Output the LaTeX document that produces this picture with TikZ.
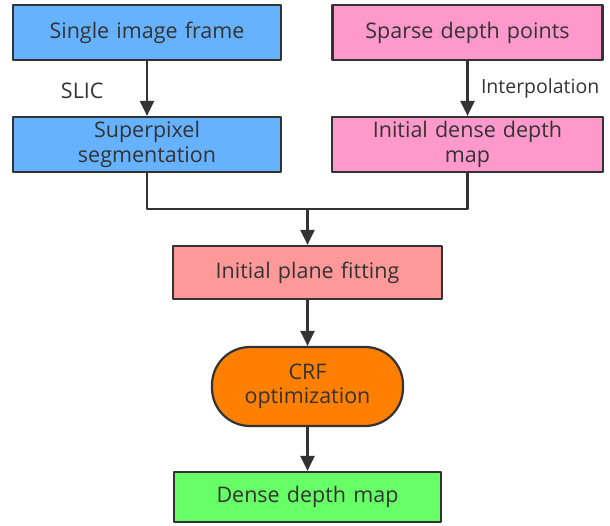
\documentclass[tikz,border=0pt]{standalone}
\usepackage{fontspec}
\setmainfont{Open Sans}
\usetikzlibrary{arrows.meta}
\definecolor{txtgray}{HTML}{333333}
\definecolor{boxblue}{HTML}{66B2FF}
\definecolor{boxpink}{HTML}{FF99CC}
\definecolor{boxsalmon}{HTML}{FF9999}
\definecolor{boxorange}{HTML}{FF8000}
\definecolor{boxgreen}{HTML}{66FF66}
\tikzset{
	procbox/.style={draw=txtgray, line width=2.2pt, text=txtgray, align=center,
		inner sep=0pt, minimum height=55pt, text width=#1},
	flow/.style={draw=txtgray, line width=2.4pt, -{Triangle[length=15pt,width=14pt]}},
	link/.style={draw=txtgray, line width=2.4pt},
}
\begin{document}
\begin{tikzpicture}[x=1pt, y=-1pt, font=\fontsize{21.5}{24.5}\selectfont, line join=round]
	\useasboundingbox (0,0) rectangle (610,525);
	% top row
	\node[procbox=260pt, fill=boxblue, minimum width=268pt] (frame) at (147,32.5) {Single image frame};
	\node[procbox=262pt, fill=boxpink, minimum width=270pt] (sparse) at (467.5,32.5) {Sparse depth points};
	% second row
	\node[procbox=260pt, fill=boxblue, minimum width=268pt] (superpix) at (147,144.5) {Superpixel\\segmentation};
	\node[procbox=262pt, fill=boxpink, minimum width=271pt] (initdense) at (467.5,144.5) {Initial dense depth\\map};
	% lower chain
	\node[procbox=260pt, fill=boxsalmon, minimum width=269pt, minimum height=53pt] (planefit) at (307.5,272.5) {Initial plane fitting};
	\node[procbox=185pt, fill=boxorange, minimum width=191pt, minimum height=79pt, rounded corners=38pt] (crf) at (307.5,386.5) {CRF\\optimization};
	\node[procbox=260pt, fill=boxgreen, minimum width=267pt, minimum height=50pt] (dense) at (307.5,497) {Dense depth map};
	\coordinate (join) at (307.5,209);
	% connectors
	\draw[flow] (frame) -- (superpix) node[pos=.55, left=39pt, text=txtgray]{SLIC};
	\draw[flow] (sparse) -- (initdense) node[pos=.5, right=9pt, anchor=west, text=txtgray, font=\fontsize{19.5}{24}\selectfont]{Interpolation};
	\draw[link] (superpix.south) |- (join) -| (initdense.south);
	\draw[flow] (join) -- (planefit);
	\draw[flow] (planefit) -- (crf);
	\draw[flow] (crf) -- (dense);
\end{tikzpicture}
\end{document}
